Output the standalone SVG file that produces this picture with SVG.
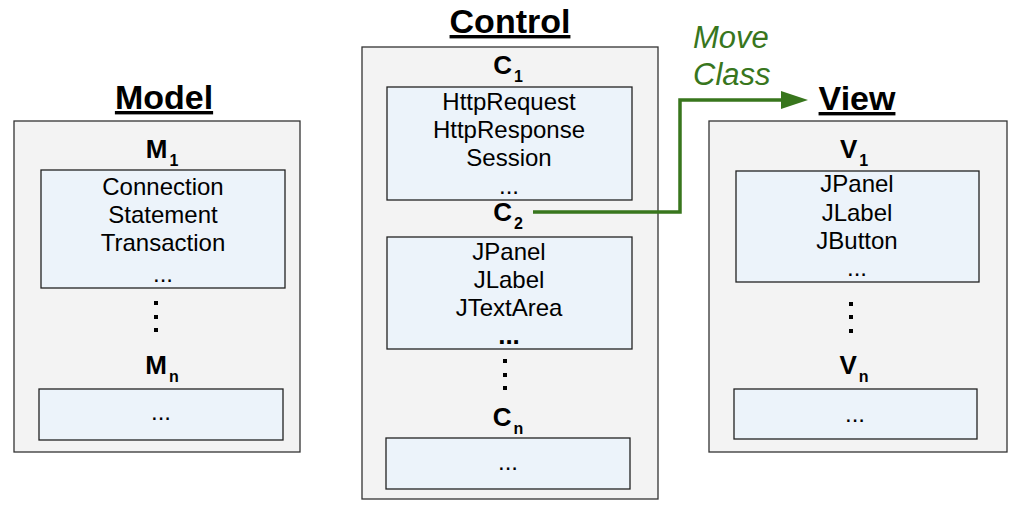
<svg xmlns="http://www.w3.org/2000/svg" width="1021" height="513" viewBox="0 0 1021 513">
<style>
text{font-family:"Liberation Sans",Arial,sans-serif;fill:#000}
.outer{fill:#f3f3f3;stroke:#333;stroke-width:1.3}
.inner{fill:#ecf3fa;stroke:#222;stroke-width:1.3}
.title{font-size:34px;font-weight:bold;text-anchor:middle;text-decoration:underline}
.item{font-size:24px;text-anchor:middle}
.lbl{font-size:26px;font-weight:bold;text-anchor:middle}
.sub{font-size:16px}
.vd{fill:#000}
.move{font-size:31px;font-style:italic;fill:#38761d}
.conn{fill:none;stroke:#38761d;stroke-width:3.5}
</style>
<defs>
<marker id="ah" markerUnits="userSpaceOnUse" markerWidth="27" markerHeight="20" refX="0" refY="10" orient="auto">
<path d="M0,1 L27,10 L0,19 z" fill="#38761d"/>
</marker>
</defs>
<rect width="1021" height="513" fill="#fff"/>

<g id="model">
<text class="title" x="164" y="109">Model</text>
<rect class="outer" x="14" y="121" width="286" height="331"/>
<text class="lbl" x="162" y="158">M<tspan class="sub" dx="2" dy="8">1</tspan></text>
<rect class="inner" x="41" y="170" width="244" height="118"/>
<text class="item" x="163" y="195">Connection</text>
<text class="item" x="163" y="223">Statement</text>
<text class="item" x="163" y="251">Transaction</text>
<text class="item" x="163" y="282">...</text>
<rect class="vd" x="154" y="301" width="4" height="4"/>
<rect class="vd" x="154" y="315" width="4" height="4"/>
<rect class="vd" x="154" y="328" width="4" height="4"/>
<text class="lbl" x="162" y="374">M<tspan class="sub" dx="2" dy="8">n</tspan></text>
<rect class="inner" x="39" y="389" width="244" height="51"/>
<text class="item" x="161" y="420">...</text>
</g>

<g id="control">
<text class="title" x="510" y="33">Control</text>
<rect class="outer" x="362" y="47" width="296" height="452"/>
<text class="lbl" x="508" y="74">C<tspan class="sub" dx="2" dy="8">1</tspan></text>
<rect class="inner" x="387" y="87" width="245" height="113"/>
<text class="item" x="509" y="110">HttpRequest</text>
<text class="item" x="509" y="138">HttpResponse</text>
<text class="item" x="509" y="166">Session</text>
<text class="item" x="509" y="194">...</text>
<text class="lbl" x="508" y="221">C<tspan class="sub" dx="2" dy="8">2</tspan></text>
<rect class="inner" x="387" y="237" width="245" height="112"/>
<text class="item" x="509" y="260">JPanel</text>
<text class="item" x="509" y="288">JLabel</text>
<text class="item" x="509" y="316">JTextArea</text>
<text class="lbl" x="509" y="344">...</text>
<rect class="vd" x="503" y="359" width="4" height="4"/>
<rect class="vd" x="503" y="373" width="4" height="4"/>
<rect class="vd" x="503" y="386" width="4" height="4"/>
<text class="lbl" x="508" y="426">C<tspan class="sub" dx="2" dy="8">n</tspan></text>
<rect class="inner" x="386" y="438" width="244" height="51"/>
<text class="item" x="508" y="470">...</text>
</g>

<g id="view">
<text class="title" x="857" y="110">View</text>
<rect class="outer" x="709" y="121" width="298" height="331"/>
<text class="lbl" x="854" y="158">V<tspan class="sub" dx="2" dy="8">1</tspan></text>
<rect class="inner" x="736" y="171" width="243" height="111"/>
<text class="item" x="857" y="192">JPanel</text>
<text class="item" x="857" y="221">JLabel</text>
<text class="item" x="857" y="249">JButton</text>
<text class="item" x="857" y="276">...</text>
<rect class="vd" x="849" y="302" width="4" height="4"/>
<rect class="vd" x="849" y="315" width="4" height="4"/>
<rect class="vd" x="849" y="329" width="4" height="4"/>
<text class="lbl" x="854" y="374">V<tspan class="sub" dx="2" dy="8">n</tspan></text>
<rect class="inner" x="734" y="389" width="243" height="50"/>
<text class="item" x="855" y="422">...</text>
</g>

<g id="connectors">
<path class="conn" d="M533,212 H680 V100 H781" marker-end="url(#ah)"/>
<text class="move" x="693" y="48">Move</text>
<text class="move" x="693" y="85">Class</text>
</g>
</svg>
